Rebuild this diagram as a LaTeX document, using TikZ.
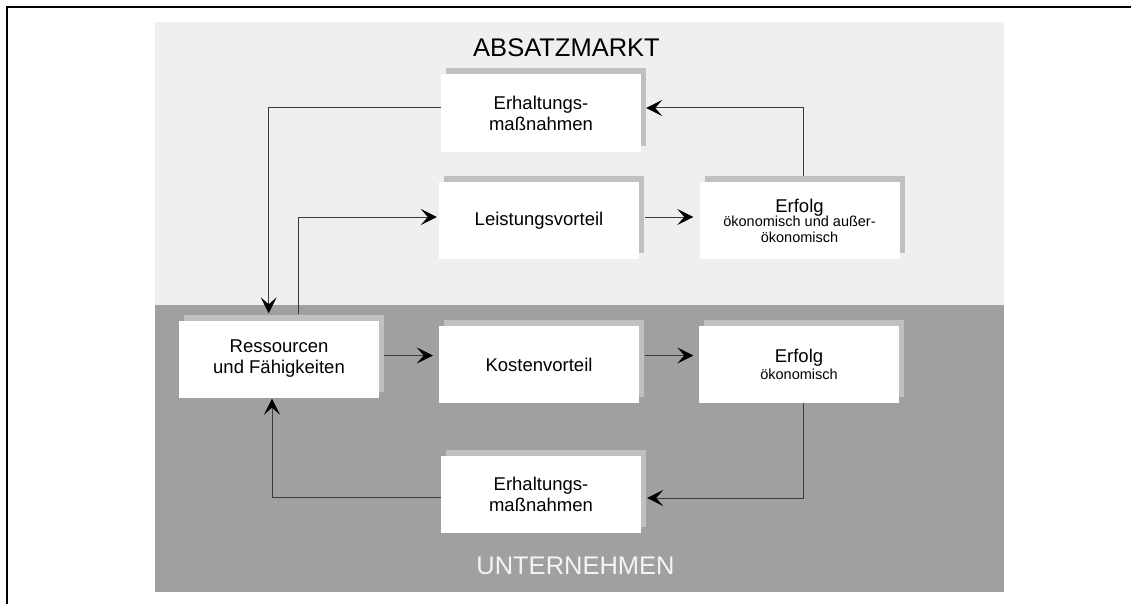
\documentclass[tikz,border=0pt]{standalone}
\usepackage{fontspec}
\setmainfont{Liberation Sans}
\usetikzlibrary{arrows.meta,shadows}
\definecolor{marketzone}{HTML}{EFEFEF}
\definecolor{firmzone}{HTML}{A0A0A0}
\definecolor{boxshade}{HTML}{C0C0C0}
\definecolor{linkgray}{HTML}{3A3A3A}
\definecolor{firmtext}{HTML}{F4F4F4}
\newcommand{\bigtxt}{\fontsize{18.5}{21}\selectfont}
\newcommand{\subtxt}{\fontsize{14.5}{16}\selectfont}
\begin{document}
\begin{tikzpicture}[x=1pt,y=-1pt,
  panel/.style={fill=white, inner sep=0pt, minimum width=200pt, minimum height=77pt,
    align=center, font=\bigtxt,
    general shadow={fill=boxshade, shadow xshift=5pt, shadow yshift=6pt}},
  link/.style={draw=linkgray, line width=1pt, -{Stealth[length=16pt,width=16pt,inset=7pt,color=black]}},
  zonelabel/.style={anchor=base, font=\fontsize{25.5}{28}\selectfont, inner sep=0pt}]
\useasboundingbox (0,0) rectangle (1131,604);

% outer frame (top and left rules)
\draw[line width=1.8pt, line cap=rect] (6.7,604) -- (6.7,6.7) -- (1131,6.7);

% market and company zones
\fill[marketzone] (155,22) rectangle (1004,305);
\fill[firmzone] (155,305) rectangle (1004,592);
\node[zonelabel] (absatz) at (566.5,57) {ABSATZMARKT};
\node[zonelabel, text=firmtext] (unternehmen) at (575.5,574) {UNTERNEHMEN};

% boxes
\node[panel, minimum height=78pt] (E1) at (541,113) {Erhaltungs-\\maßnahmen};
\node[panel] (L) at (539,220.5) {Leistungsvorteil};
\node[panel, font=\subtxt] (EF1) at (799.5,220.5) {{\bigtxt Erfolg}\\[-2pt]ökonomisch und außer-\\ökonomisch};
\node[panel] (R) at (279,359) {Ressourcen\\und Fähigkeiten};
\node[panel] (K) at (539,364.5) {Kostenvorteil};
\node[panel, font=\subtxt] (EF2) at (799,364.5) {{\bigtxt Erfolg}\\[1pt]ökonomisch};
\node[panel] (E2) at (541,494.5) {Erhaltungs-\\maßnahmen};

% connectors
\draw[link] ([yshift=5pt]E1.west) -| ([xshift=-10.3pt,yshift=7pt]R.north);
\draw[link] ([xshift=19pt,yshift=6pt]R.north) |- ([xshift=-2pt,yshift=3.5pt]L.west);
\draw[link] ([xshift=6pt,yshift=3.5pt]L.east) -- ([xshift=-6pt,yshift=3.5pt]EF1.west);
\draw[link] ([xshift=3.5pt,yshift=6pt]EF1.north) |- ([xshift=5pt,yshift=5pt]E1.east);
\draw[link] ([xshift=5pt,yshift=3.5pt]R.east) -- ([xshift=-6pt,yshift=9pt]K.west);
\draw[link] ([xshift=6pt,yshift=9pt]K.east) -- ([xshift=-5.5pt,yshift=9pt]EF2.west);
\draw[link] ([xshift=4pt]EF2.south) |- ([xshift=6pt,yshift=-3.5pt]E2.east);
\draw[link] ([yshift=-2.5pt]E2.west) -| ([xshift=-7pt,yshift=-1pt]R.south);
\end{tikzpicture}
\end{document}
